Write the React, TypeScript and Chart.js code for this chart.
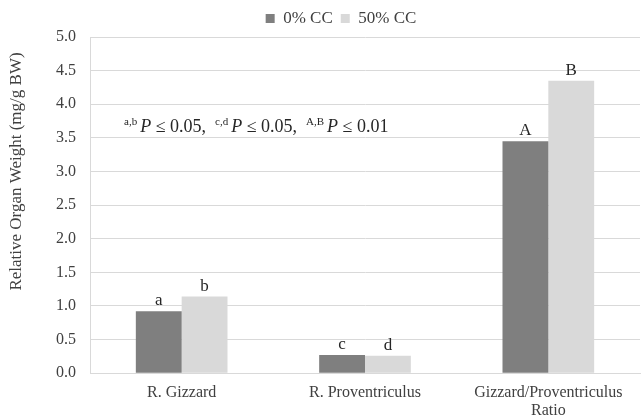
import React, { useEffect, useRef } from "react";
import { Chart, registerables } from "chart.js";

Chart.register(...registerables);

const categories: (string | string[])[] = ["R. Gizzard", "R. Proventriculus", ["Gizzard/Proventriculus", "Ratio"]];
const series0 = [0.92, 0.27, 3.45];
const series50 = [1.14, 0.26, 4.35];
const letters0 = ["a", "c", "A"];
const letters50 = ["b", "d", "B"];
const seriesNames = ["0% CC", "50% CC"];
const yTicks = [0, 0.5, 1, 1.5, 2, 2.5, 3, 3.5, 4, 4.5, 5];
const yTitle = "Relative Organ Weight (mg/g BW)";

const FONT = "'Liberation Serif', 'Times New Roman', serif";
const TEXT = "#404040";

const letterPlugin = {
  id: "letters",
  afterDatasetsDraw(chart: any) {
    const ctx = chart.ctx;
    const area = chart.chartArea;
    ctx.save();
    // y-axis title (Excel-style, slightly above centre)
    ctx.save();
    ctx.fillStyle = TEXT;
    ctx.font = `17px ${FONT}`;
    ctx.textAlign = "center";
    ctx.textBaseline = "middle";
    ctx.translate(17, area.top + (area.bottom - area.top) * 0.4);
    ctx.rotate(-Math.PI / 2);
    ctx.fillText(yTitle, 0, 0);
    ctx.restore();

    ctx.fillStyle = "#262626";
    ctx.font = `17px ${FONT}`;
    ctx.textAlign = "center";
    ctx.textBaseline = "bottom";
    const sets = [letters0, letters50];
    sets.forEach((letters, di) => {
      const meta = chart.getDatasetMeta(di);
      meta.data.forEach((bar: any, i: number) => {
        ctx.fillText(letters[i], bar.x, bar.y - 2);
      });
    });
    // significance note
    const y = chart.scales.y.getPixelForValue(3.69);
    let x = area.left + 34;
    ctx.textAlign = "left";
    ctx.textBaseline = "alphabetic";
    const base = y + 7;
    const parts: [string, string][] = [
      ["a,b", "sup"],
      ["P", "it"],
      [" ≤ 0.05,  ", "n"],
      ["c,d", "sup"],
      ["P", "it"],
      [" ≤ 0.05,  ", "n"],
      ["A,B", "sup"],
      ["P", "it"],
      [" ≤ 0.01", "n"],
    ];
    parts.forEach(([t, kind]) => {
      if (kind === "sup") {
        ctx.font = `11px ${FONT}`;
        ctx.fillText(t, x, base - 7);
        x += ctx.measureText(t).width + 3;
      } else if (kind === "it") {
        ctx.font = `italic 18px ${FONT}`;
        ctx.fillText(t, x, base);
        x += ctx.measureText(t).width;
      } else {
        ctx.font = `18px ${FONT}`;
        ctx.fillText(t, x, base);
        x += ctx.measureText(t).width;
      }
    });
    ctx.restore();
  },
};

export default function App() {
  const ref = useRef<HTMLCanvasElement>(null);
  useEffect(() => {
    if (!ref.current) return;
    const chart = new Chart(ref.current, {
      type: "bar",
      data: {
        labels: categories as any,
        datasets: [
          { label: seriesNames[0], data: series0, backgroundColor: "#7f7f7f", categoryPercentage: 0.5, barPercentage: 1.0 },
          { label: seriesNames[1], data: series50, backgroundColor: "#d9d9d9", categoryPercentage: 0.5, barPercentage: 1.0 },
        ],
      },
      options: {
        animation: false,
        responsive: false,
        maintainAspectRatio: false,
        layout: { padding: { left: 42, right: 3, top: 2, bottom: -12 } },
        plugins: {
          legend: {
            position: "top",
            labels: {
              boxWidth: 9,
              boxHeight: 9,
              color: TEXT,
              font: { family: FONT, size: 17 },
              padding: 8,
            },
          },
          tooltip: { enabled: false },
        },
        scales: {
          x: {
            grid: { display: false, drawTicks: false },
            border: { color: "#d9d9d9" },
            ticks: { color: TEXT, font: { family: FONT, size: 16, lineHeight: 1.15 }, maxRotation: 0, autoSkip: false, padding: 10 },
          },
          y: {
            min: 0,
            max: 5,
            afterBuildTicks(axis: any) {
              axis.ticks = yTicks.map((v) => ({ value: v }));
            },
            grid: { color: "#d9d9d9", drawTicks: false },
            border: { color: "#d9d9d9" },
            ticks: {
              color: TEXT,
              font: { family: FONT, size: 16 },
              padding: 14,
              callback: (v: any) => Number(v).toFixed(1),
            },
            title: { display: false },
          },
        },
      },
      plugins: [letterPlugin],
    });
    return () => chart.destroy();
  }, []);
  return (
    <div style={{ position: "fixed", left: 0, top: 0, width: 643, height: 418, background: "#fff" }}>
      <canvas ref={ref} width={643} height={418} style={{ width: 643, height: 418 }} />
    </div>
  );
}
